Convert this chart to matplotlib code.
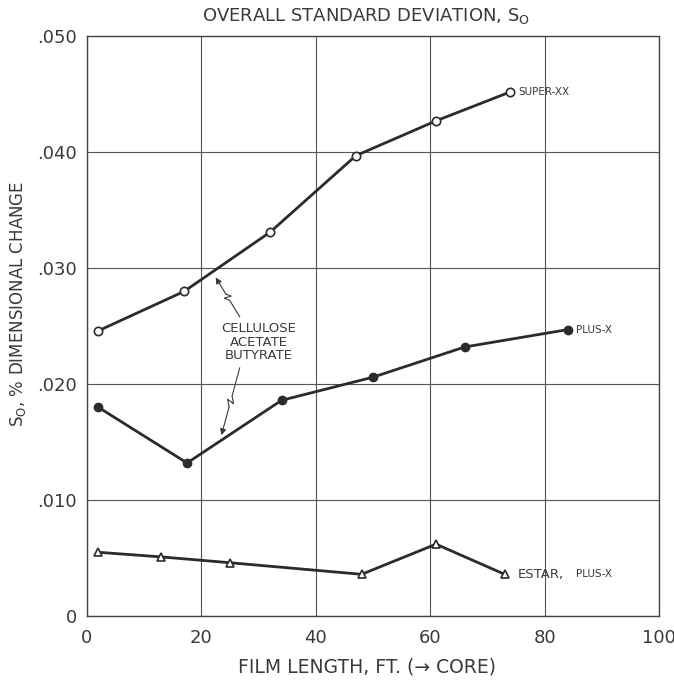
import numpy as np
import matplotlib.pyplot as plt

# data
super_x = [2, 17, 32, 47, 61, 74]
super_y = [0.0246, 0.0280, 0.0331, 0.0397, 0.0427, 0.0452]

plus_x = [2, 17.5, 34, 50, 66, 84]
plus_y = [0.0180, 0.0132, 0.0186, 0.0206, 0.0232, 0.0247]

estar_x = [2, 13, 25, 48, 61, 73]
estar_y = [0.0055, 0.0051, 0.0046, 0.0036, 0.0062, 0.0036]

xticks = [0, 20, 40, 60, 80, 100]
yticks = [0, 0.010, 0.020, 0.030, 0.040, 0.050]
ylabels = ['0', '.010', '.020', '.030', '.040', '.050']

ink = '#2b2b2b'
txt = '#3a3a3a'
plt.rcParams['font.family'] = ['DejaVu Sans']

fig = plt.figure(figsize=(6.74, 6.83), dpi=100)
ax = fig.add_axes([0.129, 0.098, 0.849, 0.849])

ax.plot(super_x, super_y, '-o', color=ink, lw=2, ms=6, mfc='white', mec=ink, mew=1.2, zorder=3)
ax.plot(plus_x, plus_y, '-o', color=ink, lw=2, ms=6, mfc=ink, mec=ink, zorder=3)
ax.plot(estar_x, estar_y, '-^', color=ink, lw=2, ms=6, mfc='white', mec=ink, mew=1.2, zorder=3)

ax.set_xlim(0, 100)
ax.set_ylim(0, 0.050)
ax.set_xticks(xticks)
ax.set_yticks(yticks)
ax.set_yticklabels(ylabels)
ax.tick_params(length=0, labelsize=13, labelcolor=txt)
ax.tick_params(axis='x', pad=9)
ax.tick_params(axis='y', pad=7)
ax.grid(True, color='#555555', lw=0.8)
for s in ax.spines.values():
    s.set_color('#444444')
    s.set_linewidth(1.0)

# series labels
ax.text(super_x[-1] + 1.4, super_y[-1], 'SUPER-XX', fontsize=7.5, color=txt, va='center')
ax.text(plus_x[-1] + 1.4, plus_y[-1], 'PLUS-X', fontsize=7.5, color=txt, va='center')
ax.text(75.3, estar_y[-1], 'ESTAR,', fontsize=9.5, color=txt, va='center')
ax.text(85.5, estar_y[-1], 'PLUS-X', fontsize=7.5, color=txt, va='center')

ax.text(30, 0.0236, 'CELLULOSE\nACETATE\nBUTYRATE', fontsize=9.5, color=txt,
        ha='center', va='center', linespacing=1.05)


# zigzag pointer arrows, built in pixel space so the kink looks the same on both
def zigzag(tail, head):
    tr = ax.transData
    p0 = np.array(tr.transform(tail))
    p1 = np.array(tr.transform(head))
    d = p1 - p0
    n = np.array([-d[1], d[0]]) / np.hypot(*d)
    pts = [p0, p0 + 0.42 * d, p0 + 0.52 * d + 3.5 * n, p0 + 0.48 * d - 3.5 * n, p0 + 0.58 * d]
    pts = tr.inverted().transform(np.array(pts))
    ax.plot(pts[:, 0], pts[:, 1], color=txt, lw=0.8)
    ax.annotate('', xy=head, xytext=tuple(pts[-1]),
                arrowprops=dict(arrowstyle='-|>', color=txt, lw=0.8, mutation_scale=9,
                                shrinkA=0, shrinkB=0))


zigzag((26.7, 0.0258), (22.5, 0.0292))
zigzag((26.7, 0.0214), (23.5, 0.0156))

fig.text(0.543, 0.977, r'OVERALL STANDARD DEVIATION, S$_\mathregular{O}$', fontsize=13,
         color=txt, ha='center', va='center')
fig.text(0.026, 0.555, r'S$_\mathregular{O}$, % DIMENSIONAL CHANGE', fontsize=12,
         color=txt, ha='center', va='center', rotation=90)
fig.text(0.545, 0.024, 'FILM LENGTH, FT. (\u2192 CORE)', fontsize=13.5,
         color=txt, ha='center', va='center')

fig.savefig('out.png', dpi=100)
